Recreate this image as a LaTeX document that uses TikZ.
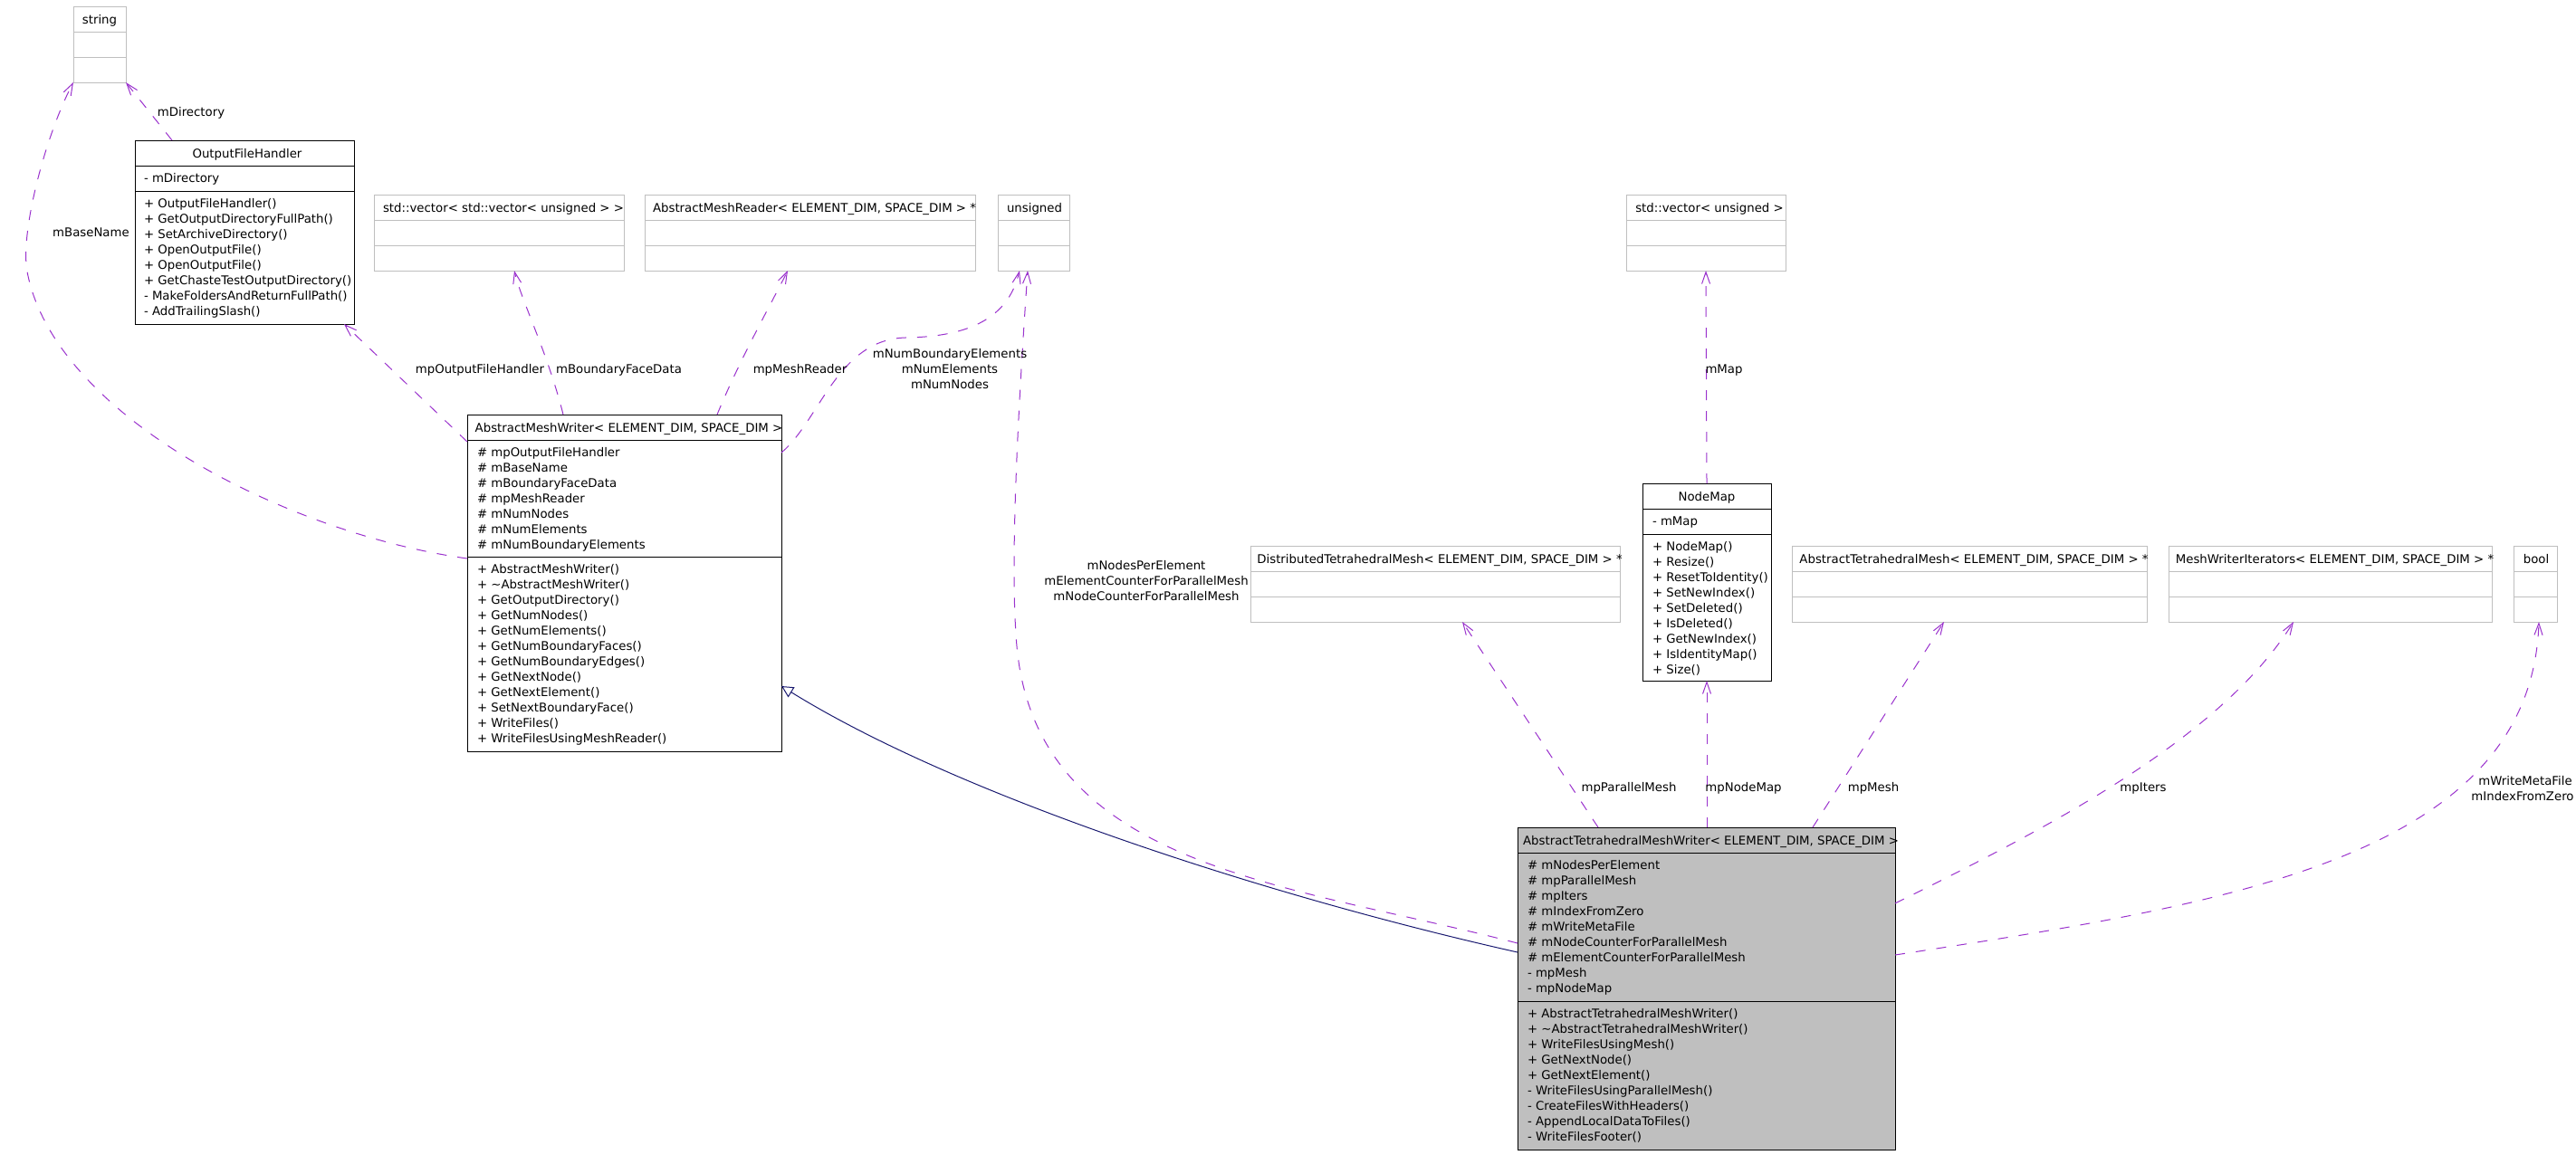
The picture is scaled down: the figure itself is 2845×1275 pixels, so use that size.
\documentclass[tikz,border=0pt]{standalone}
\usepackage{fontspec}
\setmainfont{DejaVu Sans}
\usetikzlibrary{arrows.meta,calc}
\definecolor{relpurple}{HTML}{9A32CD}
\definecolor{inhnavy}{HTML}{191970}
\definecolor{boxgray}{HTML}{BFBFBF}
\newcommand{\dfont}{\fontsize{13.3}{17}\selectfont}
\begin{document}
\begin{tikzpicture}[x=1pt,y=-1pt,
  box/.style={draw=black, line width=1pt, rectangle, inner sep=0pt, outer sep=0pt, anchor=north west},
  gbox/.style={box, draw=boxgray},
  sepline/.style={line width=1pt, draw=black},
  gsepline/.style={line width=1pt, draw=boxgray},
  txt/.style={font=\dfont, inner sep=0pt, outer sep=0pt},
  mem/.style={txt, anchor=base west},
  hdr/.style={txt, anchor=base},
  lbl/.style={txt, anchor=base},
  rel/.style={draw=relpurple, line width=1pt, dash pattern=on 11pt off 12pt, -{Straight Barb[length=13pt,width=9pt,line width=1pt]}},
  inh/.style={draw=inhnavy, line width=1pt, -{Triangle[open,length=13pt,width=13pt,line width=1pt,fill=white]}}
]
\useasboundingbox (0,0) rectangle (2845,1275);

% ---------- empty (gray) class boxes ----------
\foreach \n/\x/\y/\w/\s/\t in {
  str/81/7/58/0/string,
  vvu/413/215/276/5/{std::vector< std::vector< unsigned > >},
  amr/712/215/365/5/{AbstractMeshReader< ELEMENT\_DIM{,} SPACE\_DIM > *},
  uns/1102/215/79/1/unsigned,
  vu/1796/215/176/4/{std::vector< unsigned >},
  dtm/1381/603/408/5/{DistributedTetrahedralMesh< ELEMENT\_DIM{,} SPACE\_DIM > *},
  atm/1979/603/392/5/{AbstractTetrahedralMesh< ELEMENT\_DIM{,} SPACE\_DIM > *},
  mwi/2395/603/357/5/{MeshWriterIterators< ELEMENT\_DIM{,} SPACE\_DIM > *},
  bool/2776/603/48/1/bool}
{
  \node[gbox, minimum width=\w, minimum height=84] (\n) at (\x,\y) {};
  \draw[gsepline] ($(\n.north west)+(0,28)$) -- ($(\n.north east)+(0,28)$);
  \draw[gsepline] ($(\n.north west)+(0,56)$) -- ($(\n.north east)+(0,56)$);
  \node[hdr] (\n-h) at ($(\n.north)+(\s,19)$) {\t};
}

% ---------- OutputFileHandler ----------
\node[box, minimum width=242, minimum height=203] (ofh) at (149,155) {};
\draw[sepline] ($(ofh.north west)+(0,28)$) -- ($(ofh.north east)+(0,28)$);
\draw[sepline] ($(ofh.north west)+(0,56)$) -- ($(ofh.north east)+(0,56)$);
\node[hdr] (ofh-h) at ($(ofh.north)+(3,19)$) {OutputFileHandler};
\node[mem] (ofh-a) at ($(ofh.north west)+(10,46)$) {- mDirectory};
\foreach \t [count=\i from 0] in {+ OutputFileHandler(), + GetOutputDirectoryFullPath(), + SetArchiveDirectory(), + OpenOutputFile(), + OpenOutputFile(), + GetChasteTestOutputDirectory(), - MakeFoldersAndReturnFullPath(), - AddTrailingSlash()}
  \node[mem] at ($(ofh.north west)+(10,74+17*\i)$) {\t};

% ---------- AbstractMeshWriter ----------
\node[box, minimum width=347, minimum height=372] (amw) at (516,458) {};
\draw[sepline] ($(amw.north west)+(0,28)$) -- ($(amw.north east)+(0,28)$);
\draw[sepline] ($(amw.north west)+(0,157)$) -- ($(amw.north east)+(0,157)$);
\node[hdr] (amw-h) at ($(amw.north)+(5,19)$) {AbstractMeshWriter< ELEMENT\_DIM, SPACE\_DIM >};
\foreach \t [count=\i from 0] in {\# mpOutputFileHandler, \# mBaseName, \# mBoundaryFaceData, \# mpMeshReader, \# mNumNodes, \# mNumElements, \# mNumBoundaryElements}
  \node[mem] at ($(amw.north west)+(11,46+17*\i)$) {\t};
\foreach \t [count=\i from 0] in {+ AbstractMeshWriter(), + \textasciitilde AbstractMeshWriter(), + GetOutputDirectory(), + GetNumNodes(), + GetNumElements(), + GetNumBoundaryFaces(), + GetNumBoundaryEdges(), + GetNextNode(), + GetNextElement(), + SetNextBoundaryFace(), + WriteFiles(), + WriteFilesUsingMeshReader()}
  \node[mem] at ($(amw.north west)+(11,175+17*\i)$) {\t};

% ---------- NodeMap ----------
\node[box, minimum width=142, minimum height=218] (nm) at (1814,534) {};
\draw[sepline] ($(nm.north west)+(0,28)$) -- ($(nm.north east)+(0,28)$);
\draw[sepline] ($(nm.north west)+(0,56)$) -- ($(nm.north east)+(0,56)$);
\node[hdr] (nm-h) at ($(nm.north)+(0,19)$) {NodeMap};
\node[mem] (nm-a) at ($(nm.north west)+(11,46)$) {- mMap};
\foreach \t [count=\i from 0] in {+ NodeMap(), + Resize(), + ResetToIdentity(), + SetNewIndex(), + SetDeleted(), + IsDeleted(), + GetNewIndex(), + IsIdentityMap(), + Size()}
  \node[mem] at ($(nm.north west)+(11,74+17*\i)$) {\t};

% ---------- AbstractTetrahedralMeshWriter ----------
\node[box, fill=boxgray, minimum width=417, minimum height=356] (atmw) at (1676,914) {};
\draw[sepline] ($(atmw.north west)+(0,28)$) -- ($(atmw.north east)+(0,28)$);
\draw[sepline] ($(atmw.north west)+(0,192)$) -- ($(atmw.north east)+(0,192)$);
\node[hdr] (atmw-h) at ($(atmw.north)+(5,19)$) {AbstractTetrahedralMeshWriter< ELEMENT\_DIM, SPACE\_DIM >};
\foreach \t [count=\i from 0] in {\# mNodesPerElement, \# mpParallelMesh, \# mpIters, \# mIndexFromZero, \# mWriteMetaFile, \# mNodeCounterForParallelMesh, \# mElementCounterForParallelMesh, - mpMesh, - mpNodeMap}
  \node[mem] at ($(atmw.north west)+(11,46+17*\i)$) {\t};
\foreach \t [count=\i from 0] in {+ AbstractTetrahedralMeshWriter(), + \textasciitilde AbstractTetrahedralMeshWriter(), + WriteFilesUsingMesh(), + GetNextNode(), + GetNextElement(), - WriteFilesUsingParallelMesh(), - CreateFilesWithHeaders(), - AppendLocalDataToFiles(), - WriteFilesFooter()}
  \node[mem] at ($(atmw.north west)+(11,210+17*\i)$) {\t};

% ---------- connectors ----------
\draw[rel] ($(ofh.north west)+(41,0)$) -- (str.south east);
\draw[rel] ($(amw.north west)+(0,159)$) .. controls (320,590) and (60,460) .. (30,300)
           .. controls (22,257) and (50,150) .. (str.south west);
\draw[rel] ($(amw.north west)+(0,30)$) -- ($(ofh.south east)+(-11,0)$);
\draw[rel] ($(amw.north west)+(106,0)$) .. controls (605,390) and (575,330) .. ($(vvu.south west)+(155,0)$);
\draw[rel] ($(amw.north west)+(276,0)$) .. controls (818,395) and (852,335) .. ($(amr.south west)+(158,0)$);
\draw[rel] ($(amw.north east)+(0,42)$) .. controls (905,465) and (925,375) .. (1000,373)
           .. controls (1080,372) and (1115,345) .. ($(uns.south west)+(24,0)$);
\draw[rel] ($(atmw.north west)+(0,128)$) .. controls (1420,975) and (1135,960) .. (1122,700)
           .. controls (1115,600) and (1128,400) .. ($(uns.south west)+(33,0)$);
\draw[rel] ($(atmw.north west)+(89,0)$) -- ($(dtm.south west)+(234,0)$);
\draw[rel] ($(atmw.north west)+(209,0)$) -- (nm.south);
\draw[rel] (nm.north) -- (vu.south);
\draw[rel] ($(atmw.north west)+(326,0)$) -- ($(atm.south west)+(168,0)$);
\draw[rel] ($(atmw.north east)+(0,84)$) .. controls (2250,920) and (2450,820) .. ($(mwi.south west)+(138,0)$);
\draw[rel] ($(atmw.north east)+(0,141)$) .. controls (2450,1000) and (2795,950) .. ($(bool.south west)+(28,0)$);
\draw[inh] ($(atmw.north west)+(0,138)$) .. controls (1400,990) and (1060,880) .. ($(amw.north east)+(0,300)$);

% ---------- connector labels ----------
\node[lbl] (l-dir) at (211,128) {mDirectory};
\node[lbl] (l-base) at (100.5,261) {mBaseName};
\node[lbl] (l-ofh) at (530,412) {mpOutputFileHandler};
\node[lbl] (l-bfd) at (683.5,412) {mBoundaryFaceData};
\node[lbl] (l-mr) at (883.5,412) {mpMeshReader};
\node[lbl] (l-n1) at (1049,395) {mNumBoundaryElements};
\node[lbl] (l-n2) at (1049,412) {mNumElements};
\node[lbl] (l-n3) at (1049,429) {mNumNodes};
\node[lbl] (l-map) at (1904,412) {mMap};
\node[lbl] (l-p1) at (1266,629) {mNodesPerElement};
\node[lbl] (l-p2) at (1266,646) {mElementCounterForParallelMesh};
\node[lbl] (l-p3) at (1266,663) {mNodeCounterForParallelMesh};
\node[lbl] (l-pm) at (1799,874) {mpParallelMesh};
\node[lbl] (l-nm) at (1925.5,874) {mpNodeMap};
\node[lbl] (l-mesh) at (2069,874) {mpMesh};
\node[lbl] (l-it) at (2367,874) {mpIters};
\node[lbl] (l-w1) at (2789,867) {mWriteMetaFile};
\node[lbl] (l-w2) at (2786,884) {mIndexFromZero};
\end{tikzpicture}
\end{document}
